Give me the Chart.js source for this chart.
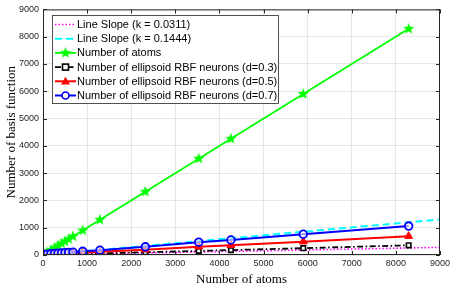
<!DOCTYPE html>
<html>
<head>
<meta charset="utf-8">
<script src="https://cdn.jsdelivr.net/npm/chart.js@4.4.0/dist/chart.umd.min.js"></script>
<style>
    html, body { margin: 0; padding: 0; background: #fff; }
    #wrap { width: 453px; height: 287px; position: relative; }
</style>
</head>
<body>
<div id="wrap"><canvas id="basisChart"></canvas></div>
<script>
        // Data
        const atoms = [40, 100, 180, 260, 340, 420, 500, 580, 680, 900, 1290, 2320, 3530, 4260, 5900, 8290];
        const numAtoms = [40, 100, 180, 260, 340, 420, 500, 580, 680, 900, 1290, 2320, 3530, 4260, 5900, 8290];
        const rbfD03 = [5, 9, 14, 18, 22, 26, 30, 34, 38, 45, 60, 100, 150, 180, 250, 355];
        const rbfD05 = [10, 18, 28, 35, 42, 50, 56, 62, 70, 90, 115, 195, 300, 360, 490, 690];
        const rbfD07 = [20, 30, 45, 55, 65, 75, 85, 95, 105, 135, 175, 300, 470, 550, 760, 1060];
        const slopeX = [0, 9000];
        const slopeLow = [0, 280];    // k = 0.0311
        const slopeHigh = [0, 1300];  // k = 0.1444
        const axisTicks = [0, 1000, 2000, 3000, 4000, 5000, 6000, 7000, 8000, 9000];

        function pts(xs, ys) {
            return xs.map((x, i) => ({ x: x, y: ys[i] }));
        }

        // filled five point star marker
        function makeStar(r, color) {
            const c = document.createElement('canvas');
            const s = Math.ceil(r * 2 + 2);
            c.width = s; c.height = s;
            const g = c.getContext('2d');
            g.beginPath();
            for (let i = 0; i < 10; i++) {
                const rad = i % 2 === 0 ? r : r * 0.42;
                const a = -Math.PI / 2 + i * Math.PI / 5;
                const px = s / 2 + rad * Math.cos(a);
                const py = s / 2 + rad * Math.sin(a);
                if (i === 0) g.moveTo(px, py); else g.lineTo(px, py);
            }
            g.closePath();
            g.fillStyle = color;
            g.fill();
            return c;
        }
        const starImg = makeStar(6, '#00ff00');

        const series = [
            { label: 'Line Slope (k = 0.0311)', color: '#ff00ff', dash: [1.5, 2], width: 1.6, marker: null },
            { label: 'Line Slope (k = 0.1444)', color: '#00ffff', dash: [7, 4], width: 2, marker: null },
            { label: 'Number of atoms', color: '#00ff00', dash: [], width: 1.8, marker: 'star' },
            { label: 'Number of ellipsoid RBF neurons (d=0.3)', color: '#000000', dash: [6, 2.5, 1.5, 2.5], width: 1.8, marker: 'rect' },
            { label: 'Number of ellipsoid RBF neurons (d=0.5)', color: '#ff0000', dash: [], width: 2, marker: 'triangle' },
            { label: 'Number of ellipsoid RBF neurons (d=0.7)', color: '#0000ff', dash: [], width: 2, marker: 'circle' }
        ];

        function drawMarker(ctx, type, x, y, color) {
            ctx.save();
            ctx.setLineDash([]);
            ctx.strokeStyle = color;
            ctx.lineWidth = 1.6;
            if (type === 'star') {
                ctx.drawImage(starImg, x - starImg.width / 2, y - starImg.height / 2);
            } else if (type === 'rect') {
                ctx.fillStyle = '#fff';
                ctx.fillRect(x - 3, y - 3, 6, 6);
                ctx.strokeRect(x - 3, y - 3, 6, 6);
            } else if (type === 'triangle') {
                ctx.fillStyle = color;
                ctx.beginPath();
                ctx.moveTo(x, y - 4.5);
                ctx.lineTo(x + 4.5, y + 3.2);
                ctx.lineTo(x - 4.5, y + 3.2);
                ctx.closePath();
                ctx.fill();
            } else if (type === 'circle') {
                ctx.fillStyle = '#fff';
                ctx.beginPath();
                ctx.arc(x, y, 3.5, 0, Math.PI * 2);
                ctx.fill();
                ctx.stroke();
            }
            ctx.restore();
        }

        // box, inward ticks and legend, MATLAB style
        const boxLegendPlugin = {
            id: 'boxLegend',
            afterDatasetsDraw(chart) {
                const ctx = chart.ctx;
                const a = chart.chartArea;
                const xs = chart.scales.x, ys = chart.scales.y;
                ctx.save();
                ctx.strokeStyle = '#262626';
                ctx.lineWidth = 1;
                ctx.strokeRect(a.left + 0.5, a.top + 0.5, a.right - a.left - 1, a.bottom - a.top - 1);
                ctx.beginPath();
                axisTicks.forEach(v => {
                    const px = Math.round(xs.getPixelForValue(v)) + 0.5;
                    ctx.moveTo(px, a.bottom); ctx.lineTo(px, a.bottom - 4);
                    ctx.moveTo(px, a.top); ctx.lineTo(px, a.top + 4);
                    const py = Math.round(ys.getPixelForValue(v)) + 0.5;
                    ctx.moveTo(a.left, py); ctx.lineTo(a.left + 4, py);
                    ctx.moveTo(a.right, py); ctx.lineTo(a.right - 4, py);
                });
                ctx.stroke();

                // legend
                const lx = 52, ly = 15, lw = 226, lh = 88;
                ctx.fillStyle = '#fff';
                ctx.fillRect(lx, ly, lw, lh);
                ctx.strokeStyle = '#262626';
                ctx.lineWidth = 0.8;
                ctx.strokeRect(lx + 0.5, ly + 0.5, lw, lh);
                ctx.font = '11px "Liberation Sans", Arial, sans-serif';
                ctx.textBaseline = 'middle';
                series.forEach((s, i) => {
                    const y = ly + 9.5 + i * 14.2;
                    ctx.strokeStyle = s.color;
                    ctx.lineWidth = s.width;
                    ctx.setLineDash(s.dash);
                    ctx.beginPath();
                    ctx.moveTo(lx + 3, y);
                    ctx.lineTo(lx + 24, y);
                    ctx.stroke();
                    ctx.setLineDash([]);
                    if (s.marker) drawMarker(ctx, s.marker, lx + 13.5, y, s.color);
                    ctx.fillStyle = '#000';
                    ctx.fillText(s.label, lx + 25, y + 0.5);
                });
                ctx.restore();
            }
        };

        function makeDataset(s, data, order) {
            const ds = {
                label: s.label,
                data: data,
                borderColor: s.color,
                borderWidth: s.width,
                borderDash: s.dash,
                fill: false,
                tension: 0,
                order: order,
                pointRadius: 0,
                pointHoverRadius: 0
            };
            if (s.marker === 'star') {
                ds.pointStyle = starImg;
                ds.pointRadius = 6;
            } else if (s.marker === 'rect') {
                ds.pointStyle = 'rect';
                ds.pointRadius = 3.2;
                ds.pointBackgroundColor = '#fff';
                ds.pointBorderColor = s.color;
                ds.pointBorderWidth = 1.6;
            } else if (s.marker === 'triangle') {
                ds.pointStyle = 'triangle';
                ds.pointRadius = 4.5;
                ds.pointBackgroundColor = s.color;
                ds.pointBorderColor = s.color;
                ds.pointBorderWidth = 1;
            } else if (s.marker === 'circle') {
                ds.pointStyle = 'circle';
                ds.pointRadius = 3.8;
                ds.pointBackgroundColor = 'rgba(255,255,255,0.6)';
                ds.pointBorderColor = s.color;
                ds.pointBorderWidth = 1.8;
            }
            return ds;
        }

        const tickFont = { family: '"Liberation Sans", Arial, sans-serif', size: 9 };
        const titleFont = { family: '"Liberation Serif", "DejaVu Serif", serif', size: 13 };

        const ctx = document.getElementById('basisChart').getContext('2d');
        const basisChart = new Chart(ctx, {
            type: 'line',
            data: {
                datasets: [
                    makeDataset(series[0], pts(slopeX, slopeLow), 5),
                    makeDataset(series[1], pts(slopeX, slopeHigh), 4),
                    makeDataset(series[2], pts(atoms, numAtoms), 3),
                    makeDataset(series[3], pts(atoms, rbfD03), 2),
                    makeDataset(series[4], pts(atoms, rbfD05), 1),
                    makeDataset(series[5], pts(atoms, rbfD07), 0)
                ]
            },
            options: {
                responsive: true,
                maintainAspectRatio: false,
                animation: false,
                layout: { padding: { top: 6, right: 11, left: 4, bottom: 0 } },
                plugins: {
                    legend: { display: false },
                    tooltip: { enabled: false }
                },
                scales: {
                    x: {
                        type: 'linear',
                        min: 0,
                        max: 9000,
                        afterBuildTicks: (scale) => { scale.ticks = axisTicks.map(v => ({ value: v })); },
                        afterFit: (scale) => { scale.height = 32; },
                        grid: { color: '#e6e6e6', drawTicks: false, lineWidth: 1 },
                        border: { display: false },
                        ticks: {
                            padding: 3,
                            color: '#262626',
                            font: tickFont,
                            maxRotation: 0,
                            callback: (v) => String(v)
                        },
                        title: {
                            display: true,
                            text: 'Number of atoms',
                            color: '#000',
                            padding: { top: 0, bottom: 0 },
                            font: titleFont
                        }
                    },
                    y: {
                        type: 'linear',
                        min: 0,
                        max: 9000,
                        afterBuildTicks: (scale) => { scale.ticks = axisTicks.map(v => ({ value: v })); },
                        afterFit: (scale) => { scale.width = 39; },
                        grid: { color: '#e6e6e6', drawTicks: false, lineWidth: 1 },
                        border: { display: false },
                        ticks: {
                            padding: 4,
                            color: '#262626',
                            font: tickFont,
                            callback: (v) => String(v)
                        },
                        title: {
                            display: true,
                            text: 'Number of basis function',
                            color: '#000',
                            padding: { top: 0, bottom: 0 },
                            font: titleFont
                        }
                    }
                }
            },
            plugins: [boxLegendPlugin]
        });
</script>
</body>
</html>
